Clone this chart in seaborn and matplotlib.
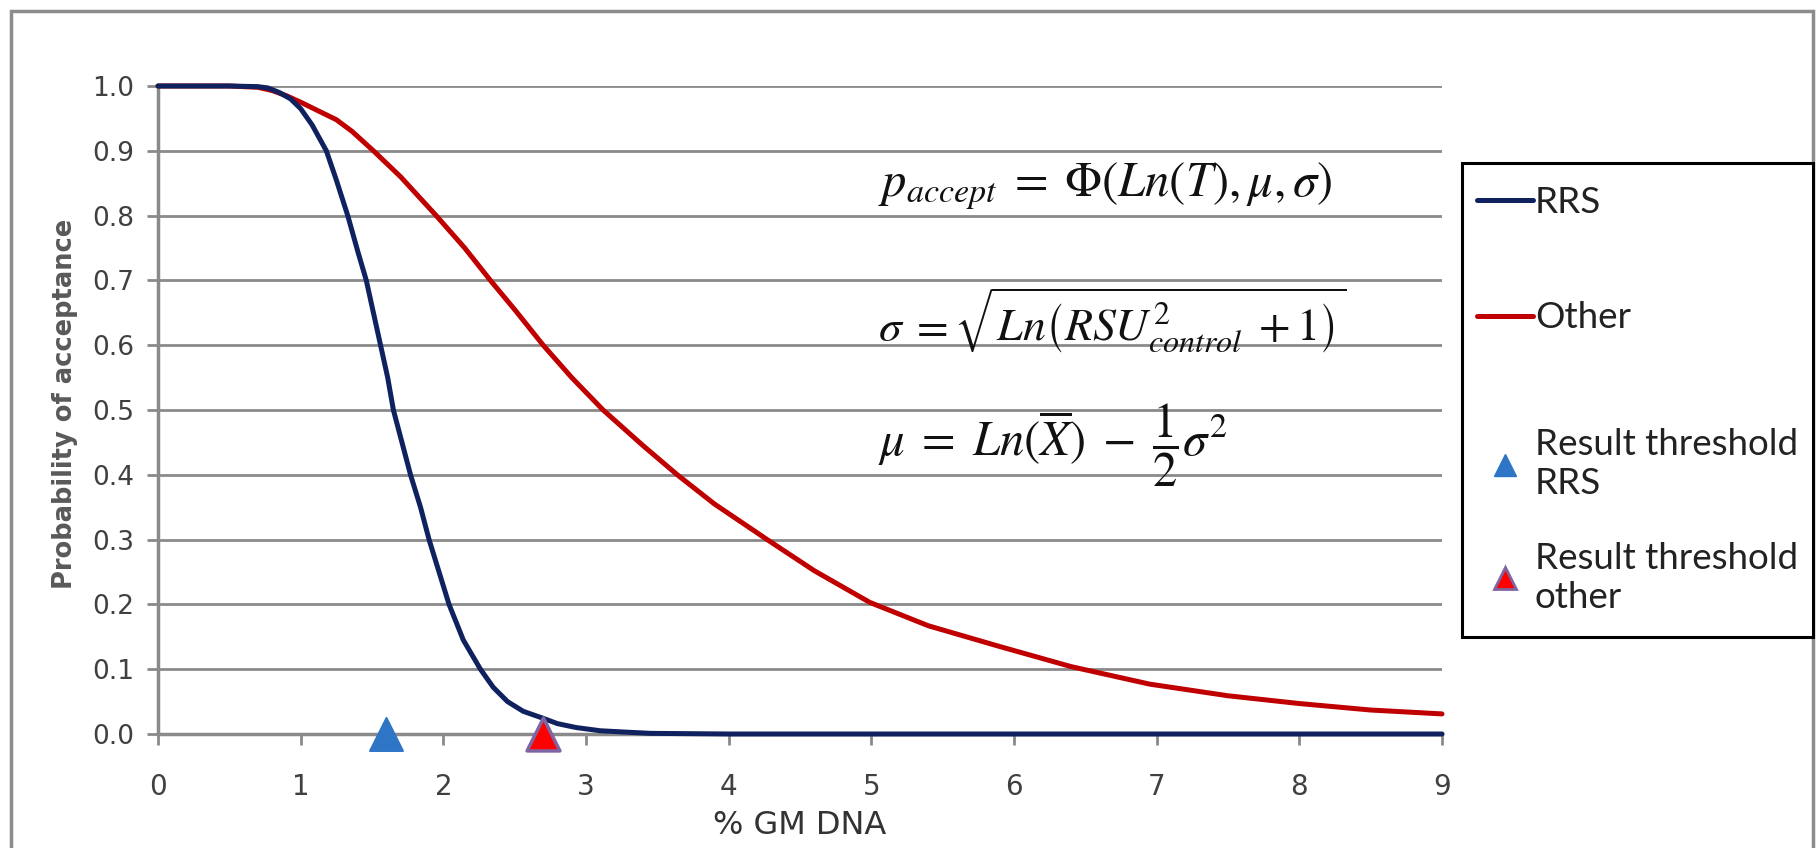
import matplotlib
matplotlib.use("Agg")
import matplotlib.pyplot as plt
import seaborn as sns
import pandas as pd
from matplotlib.lines import Line2D
from matplotlib.patches import Rectangle

# curve values
rrs_x = [0, 0.5, 0.7, 0.77, 0.85, 0.93, 1.0, 1.08, 1.18, 1.25, 1.33, 1.4, 1.46, 1.51, 1.56, 1.61,
         1.65, 1.71, 1.77, 1.84, 1.90, 1.97, 2.04, 2.14, 2.26, 2.35, 2.45, 2.56, 2.69, 2.8, 2.93,
         3.1, 3.27, 3.45, 4, 5, 6, 7, 8, 9]
rrs_y = [1.0, 1.0, 0.999, 0.997, 0.99, 0.98, 0.965, 0.94, 0.9, 0.855, 0.8, 0.745, 0.7, 0.65, 0.6,
         0.55, 0.5, 0.45, 0.4, 0.35, 0.3, 0.25, 0.2, 0.145, 0.1, 0.072, 0.05, 0.035, 0.025, 0.016,
         0.01, 0.005, 0.003, 0.001, 0, 0, 0, 0, 0, 0]

other_x = [0, 0.5, 0.7, 0.8, 0.9, 1.0, 1.12, 1.25, 1.36, 1.51, 1.7, 1.95, 2.15, 2.33, 2.5, 2.7,
           2.9, 3.12, 3.4, 3.64, 3.9, 4.27, 4.6, 4.99, 5.4, 5.9, 6.4, 6.95, 7.5, 8.0, 8.5, 9.0]
other_y = [1.0, 1.0, 0.998, 0.993, 0.985, 0.975, 0.962, 0.948, 0.93, 0.9, 0.86, 0.8, 0.75, 0.7,
           0.655, 0.6, 0.55, 0.5, 0.445, 0.4, 0.355, 0.3, 0.252, 0.203, 0.167, 0.135, 0.104,
           0.077, 0.059, 0.047, 0.037, 0.031]

threshold_labels = ["Result threshold\nRRS", "Result threshold\nother"]
threshold_x = [1.6, 2.7]
threshold_y = [0.0, 0.0]

x_ticks = [0, 1, 2, 3, 4, 5, 6, 7, 8, 9]
y_ticks = [0.0, 0.1, 0.2, 0.3, 0.4, 0.5, 0.6, 0.7, 0.8, 0.9, 1.0]

navy = "#10215f"
red = "#c00000"
grey = "#8a8a8a"

sns.set_theme(style="white")
plt.rcParams["font.family"] = ["DejaVu Sans"]
plt.rcParams["mathtext.fontset"] = "stix"

W, H = 1820, 848
fig = plt.figure(figsize=(18.2, 8.48), dpi=100)
ax = fig.add_axes([158 / W, 1 - 734 / H, 1284 / W, 648 / H])

# outer frame of the picture
fig.patches.append(Rectangle((11 / W, -0.05), 1802 / W, 1.05 - 11 / H,
                             transform=fig.transFigure, fill=False,
                             edgecolor="#8c8c8c", linewidth=2.5, zorder=0))

rrs = pd.DataFrame({"x": rrs_x, "p": rrs_y})
other = pd.DataFrame({"x": other_x, "p": other_y})

sns.lineplot(data=rrs, x="x", y="p", ax=ax, color=navy, linewidth=3.6, clip_on=False, zorder=4)
sns.lineplot(data=other, x="x", y="p", ax=ax, color=red, linewidth=3.6, clip_on=False, zorder=3)

ax.scatter(threshold_x[:1], threshold_y[:1], marker="^", s=560, color="#2e75c6",
           edgecolor="#2e75c6", linewidth=1.5, clip_on=False, zorder=6)
ax.scatter(threshold_x[1:], threshold_y[1:], marker="^", s=560, color="#ff0000",
           edgecolor="#8064a2", linewidth=2.5, clip_on=False, zorder=6)

ax.set_xlim(0, 9)
ax.set_ylim(0, 1.0)
ax.set_xticks(x_ticks)
ax.set_yticks(y_ticks)
ax.set_yticklabels([f"{v:.1f}" for v in y_ticks])
ax.yaxis.grid(True, color=grey, linewidth=2)
ax.xaxis.grid(False)
for s in ["top", "right"]:
    ax.spines[s].set_visible(False)
for s in ["left", "bottom"]:
    ax.spines[s].set_color(grey)
    ax.spines[s].set_linewidth(2.5)
ax.tick_params(axis="y", direction="out", length=8, width=2, color=grey,
               labelsize=19, labelcolor="#404040", pad=9, left=True)
ax.tick_params(axis="x", direction="out", length=8, width=2, color=grey,
               labelsize=20, labelcolor="#404040", pad=20, bottom=True)

ax.set_xlabel("% GM DNA", fontsize=23, color="#333333")
ax.xaxis.set_label_coords(0.5, -0.118)
ax.set_ylabel("Probability of acceptance", fontsize=18.5, fontweight="bold", color="#595959")
ax.yaxis.set_label_coords(-0.062, 0.51)

# formulas
ax.text(5.05, 0.846, r"$p_{accept}\;=\;\Phi\left(Ln\left(T\right),\mu,\sigma\right)$",
        fontsize=35, va="center", ha="left", color="#111111")
ax.text(5.05, 0.639, r"$\sigma\;=\sqrt{Ln\left(RSU_{control}^{2}\;+1\right)}$",
        fontsize=33, va="center", ha="left", color="#111111")
ax.text(5.05, 0.446, r"$\mu\;=\;Ln(\overline{X})\;-\;\dfrac{1}{2}\sigma^{2}$",
        fontsize=35, va="center", ha="left", color="#111111")

# legend: one frame, two blocks of entries
fig.patches.append(Rectangle((1462 / W, 1 - 637 / H), 351 / W, 474 / H,
                             transform=fig.transFigure, facecolor="white",
                             edgecolor="black", linewidth=2.2, zorder=5))
leg_font = {"family": "Lato", "size": 26.5}
line_handles = [Line2D([], [], color=navy, linewidth=3.6),
                Line2D([], [], color=red, linewidth=3.6)]
tri_handles = [Line2D([], [], linestyle="none", marker="^", markersize=16, color="#2e75c6"),
               Line2D([], [], linestyle="none", marker="^", markersize=16,
                      markerfacecolor="#ff0000", markeredgecolor="#8064a2", markeredgewidth=2)]
leg1 = fig.legend(line_handles, ["RRS", "Other"], loc="center left",
                  bbox_to_anchor=(1477 / W, 1 - 260 / H), bbox_transform=fig.transFigure,
                  frameon=False, prop=leg_font, handlelength=1.52, handletextpad=0.05,
                  labelspacing=2.25, borderpad=0, borderaxespad=0)
leg2 = fig.legend(tri_handles, threshold_labels, loc="center left",
                  bbox_to_anchor=(1477 / W, 1 - 521 / H), bbox_transform=fig.transFigure,
                  frameon=False, prop=leg_font, handlelength=1.52, handletextpad=0.05,
                  labelspacing=1.15, borderpad=0, borderaxespad=0)
for leg in (leg1, leg2):
    leg.set_zorder(6)
    for t in leg.get_texts():
        t.set_color("#222222")

fig.savefig("out.png", dpi=100)
